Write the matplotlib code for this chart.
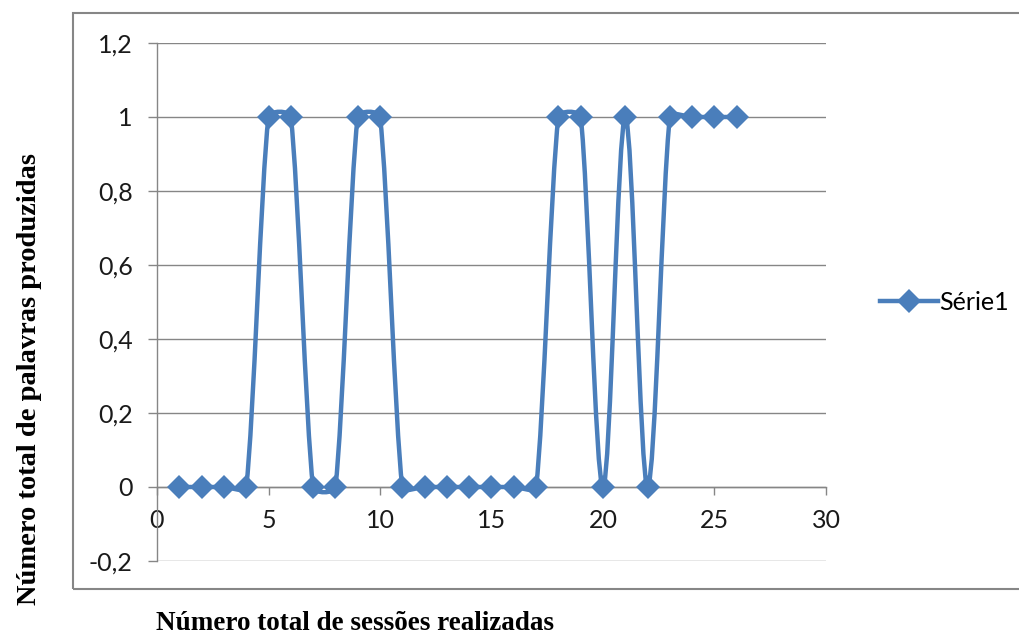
#!/usr/bin/env python3
"""
Sessions vs words produced - Excel style smoothed line chart
"""

import matplotlib
matplotlib.use('Agg')
import matplotlib.pyplot as plt
from matplotlib.path import Path
from matplotlib.patches import PathPatch, Rectangle
from matplotlib.lines import Line2D
import numpy as np

# data
sessions = [1, 2, 3, 4, 5, 6, 7, 8, 9, 10, 11, 12, 13, 14, 15, 16, 17,
            18, 19, 20, 21, 22, 23, 24, 25, 26]
words = [0, 0, 0, 0, 1, 1, 0, 0, 1, 1, 0, 0, 0, 0, 0, 0, 0,
         1, 1, 0, 1, 0, 1, 1, 1, 1]
series_name = 'Série1'

x_ticks = [0, 5, 10, 15, 20, 25, 30]
x_tick_labels = ['0', '5', '10', '15', '20', '25', '30']
y_ticks = [-0.2, 0.0, 0.2, 0.4, 0.6, 0.8, 1.0, 1.2]
y_tick_labels = ['-0,2', '0', '0,2', '0,4', '0,6', '0,8', '1', '1,2']

x_label = 'Número total de sessões realizadas'
y_label = 'Número total de palavras produzidas'

LINE_COLOR = '#4A7EBB'
GRID_COLOR = '#868686'
SMOOTH = 1.0 / 6.0


def smooth_path(ax, xs, ys):
    """Bezier path through the points, roughly like Excel's smoothed line"""
    pts = np.column_stack([xs, ys]).astype(float)
    pix = ax.transData.transform(pts)
    n = len(pts)

    verts = [pts[0]]
    codes = [Path.MOVETO]
    for i in range(n - 1):
        i0, i1, i2, i3 = max(i - 1, 0), i, i + 1, min(i + 2, n - 1)
        d01 = np.hypot(*(pix[i1] - pix[i0]))
        d12 = np.hypot(*(pix[i2] - pix[i1]))
        d23 = np.hypot(*(pix[i3] - pix[i2]))
        f1 = SMOOTH * min(1.0, 2 * d12 / (d01 + d12)) if d01 + d12 > 0 else 0
        f2 = SMOOTH * min(1.0, 2 * d12 / (d12 + d23)) if d12 + d23 > 0 else 0
        c1 = pts[i1] + (pts[i2] - pts[i0]) * f1
        c2 = pts[i2] - (pts[i3] - pts[i1]) * f2
        verts += [c1, c2, pts[i2]]
        codes += [Path.CURVE4] * 3
    return Path(verts, codes)


def make_chart():
    fig = plt.figure(figsize=(10.2, 6.35), dpi=100)
    ax = fig.add_axes([157 / 1020, 74 / 635, 669 / 1020, 518 / 635])

    ax.set_xlim(0, 30)
    ax.set_ylim(-0.2, 1.2)

    # outer chart border (right edge runs off the picture)
    fig.patches.append(Rectangle((73 / 1020, 46 / 635), 1.0, 576 / 635,
                                 transform=fig.transFigure, fill=False,
                                 edgecolor=GRID_COLOR, linewidth=1.5))

    # smoothed line + diamond markers
    path = smooth_path(ax, sessions, words)
    ax.add_patch(PathPatch(path, facecolor='none', edgecolor=LINE_COLOR,
                           linewidth=3.2, capstyle='round', joinstyle='round',
                           zorder=3))
    ax.plot(sessions, words, linestyle='none', marker='D', markersize=12,
            color=LINE_COLOR, markeredgewidth=0, zorder=4)

    # axes styling
    ax.spines['top'].set_visible(False)
    ax.spines['right'].set_visible(False)
    ax.spines['bottom'].set_position(('data', 0))
    for s in ['left', 'bottom']:
        ax.spines[s].set_color(GRID_COLOR)
        ax.spines[s].set_linewidth(1.0)

    ax.set_xticks(x_ticks)
    ax.set_xticklabels(x_tick_labels)
    ax.set_yticks(y_ticks)
    ax.set_yticklabels(y_tick_labels)
    ax.tick_params(axis='x', length=5.5, width=1.0, color=GRID_COLOR,
                   pad=10, labelsize=18, labelcolor='#1a1a1a')
    ax.tick_params(axis='y', length=6.5, width=1.0, color=GRID_COLOR,
                   pad=11, labelsize=18, labelcolor='#1a1a1a')
    for lab in ax.get_xticklabels() + ax.get_yticklabels():
        lab.set_family('Lato')

    ax.yaxis.grid(True, color=GRID_COLOR, linewidth=1.0)
    ax.set_axisbelow(True)

    # legend on the right
    handle = Line2D([], [], color=LINE_COLOR, linewidth=3.2, marker='D',
                    markersize=12, markeredgewidth=0)
    ax.legend([handle], [series_name], loc='center left',
              bbox_to_anchor=(858 / 1020, 333 / 635),
              bbox_transform=fig.transFigure, frameon=False,
              handlelength=2.3, handletextpad=0.05,
              prop={'family': 'Lato', 'size': 18})

    # axis titles (Times-like, bold)
    fig.text(30 / 1020, 256 / 635, y_label, rotation=90, ha='center',
             va='center', family='Liberation Serif', weight='bold',
             fontsize=20.5)
    fig.text(355 / 1020, 12 / 635, x_label, ha='center', va='center',
             family='Liberation Serif', weight='bold', fontsize=19.5)
    return fig


def main():
    fig = make_chart()
    fig.savefig('out.png', dpi=100)
    print('saved out.png')


if __name__ == '__main__':
    main()
